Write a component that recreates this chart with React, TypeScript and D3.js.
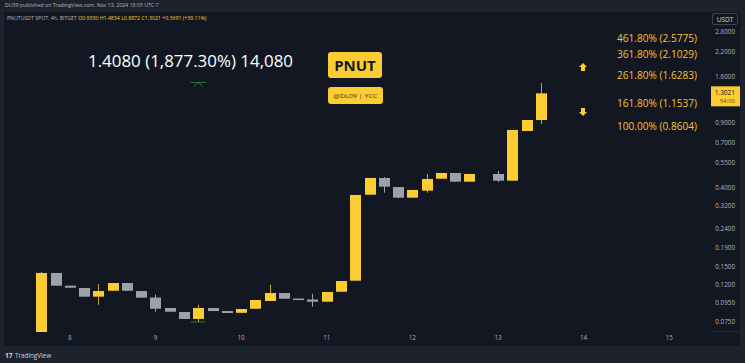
import React from "react";
import * as d3 from "d3";

// ---- data (PNUTUSDT 4h, Bitget) ----
const candleIndex = [0,1,2,3,4,5,6,7,8,9,10,11,12,13,14,15,16,17,18,19,20,21,22,23,24,25,26,27,28,29,30,32,33,34,35];
const opens  = [0.0662,0.1383,0.1180,0.1146,0.1029,0.1108,0.1220,0.1104,0.1018,0.0893,0.0850,0.0779,0.0893,0.0860,0.0841,0.0885,0.0975,0.1077,0.1005,0.0993,0.0966,0.1094,0.1256,0.3675,0.4527,0.4043,0.3540,0.3864,0.4484,0.4819,0.4323,0.4759,0.4377,0.8140,0.9330];
const closes = [0.1383,0.1180,0.1151,0.1029,0.1104,0.1220,0.1108,0.1016,0.0885,0.0853,0.0779,0.0893,0.0860,0.0839,0.0882,0.0987,0.1077,0.1003,0.0993,0.0966,0.1091,0.1251,0.3662,0.4527,0.4060,0.3540,0.3897,0.4471,0.4819,0.4323,0.4759,0.4377,0.8244,0.9338,1.3021];
const highs  = [0.1400,0.1383,0.1180,0.1146,0.1205,0.1220,0.1220,0.1104,0.1055,0.0893,0.0850,0.0931,0.0893,0.0860,0.0882,0.0987,0.1195,0.1077,0.1005,0.1068,0.1091,0.1251,0.3662,0.4527,0.4584,0.4043,0.3897,0.4759,0.4819,0.4819,0.4759,0.4940,0.8244,0.9338,1.4834];
const lows   = [0.0662,0.1180,0.1151,0.1029,0.0931,0.1108,0.1108,0.1016,0.0853,0.0853,0.0779,0.0750,0.0860,0.0839,0.0841,0.0885,0.0975,0.1003,0.0993,0.0908,0.0966,0.1094,0.1256,0.3675,0.3768,0.3540,0.3540,0.3768,0.4484,0.4323,0.4323,0.4300,0.4377,0.8140,0.8872];

const priceTicks = [2.8, 2.2, 1.6, 0.9, 0.7, 0.55, 0.4, 0.32, 0.24, 0.19, 0.15, 0.12, 0.095, 0.075];
const dayLabels = ["8", "9", "10", "11", "12", "13", "14", "15"];
const dayIndex = [2, 8, 14, 20, 26, 32, 38, 44];

const fibPercents = ["461.80%", "361.80%", "261.80%", "161.80%", "100.00%"];
const fibPrices = [2.5775, 2.1029, 1.6283, 1.1537, 0.8604];

const legendSymbol = "PNUTUSDT SPOT, 4h, BITGET";
const legendValues = ["O0.9330", "H1.4834", "L0.8872", "C1.3021", "+0.3691 (+39.11%)"];

const lastPrice = 1.3021;
const measureLow = 0.075;
const measureHigh = 1.4834;

const YELLOW = "#FBCD33";
const YELLOW_WICK = "#C9A02A";
const GRAY = "#9EA1AA";
const BG = "#131722";
const FRAME = "#1E222D";
const AXIS_TEXT = "#B2B5BE";
const FIB = "#F6C52E";
const GREEN = "#2B7A3E";

export default function App() {
  const x = d3.scaleLinear().domain([0, 35]).range([41.3, 540.8]);
  const y = d3.scaleLog().domain([0.075, 2.8]).range([322, 32]);
  const bw = 11;
  const font = "'Open Sans', 'Noto Sans', sans-serif";

  const candles = candleIndex.map((idx, i) => ({
    idx, o: opens[i], c: closes[i], h: highs[i], l: lows[i],
  }));

  const mx = x(11) - 7.5;
  return (
    <svg width={745} height={363} style={{ position: "absolute", left: 0, top: 0 }} fontFamily={font}>
      <rect x={0} y={0} width={745} height={363} fill={FRAME} />
      <text x={5} y={7} fontSize={5.2} fill={AXIS_TEXT}>
        DU39 published on TradingView.com, Nov 13, 2024 18:05 UTC-7
      </text>
      {/* main panel */}
      <rect x={3} y={11} width={738} height={336} fill={BG} stroke="#2A2E39" strokeWidth={0.8} />
      <line x1={710} x2={741} y1={331.5} y2={331.5} stroke="#2A2E39" strokeWidth={0.8} />

      {/* legend line */}
      <text x={7} y={19.5} fontSize={5.2} fill={AXIS_TEXT}>
        <tspan>{legendSymbol}</tspan>
        {legendValues.map((v, i) => (
          <tspan key={i} fill={YELLOW}>{"  " + v}</tspan>
        ))}
      </text>

      {/* candles */}
      {candles.map((d, i) => {
        const up = d.c >= d.o;
        const cx = Math.round(x(d.idx));
        const top = y(Math.max(d.o, d.c));
        const bot = y(Math.min(d.o, d.c));
        return (
          <g key={i}>
            <line x1={cx + 0.5} x2={cx + 0.5} y1={y(d.h)} y2={y(d.l)} stroke={up ? YELLOW_WICK : GRAY} strokeWidth={1} />
            <rect x={cx - bw / 2 + 0.5} y={top} width={bw} height={Math.max(1.5, bot - top)} fill={up ? YELLOW : GRAY} />
          </g>
        );
      })}

      {/* price range measure marks */}
      <line x1={mx} x2={mx + 15} y1={y(measureLow)} y2={y(measureLow)} stroke={GREEN} strokeWidth={1} />
      <line x1={mx} x2={mx + 15} y1={y(measureHigh) - 0.5} y2={y(measureHigh) - 0.5} stroke={GREEN} strokeWidth={1} />
      <polyline points={`${mx + 3},${y(measureHigh) + 3.5} ${mx + 7.5},${y(measureHigh) - 0.5} ${mx + 12},${y(measureHigh) + 3.5}`} fill="none" stroke={GREEN} strokeWidth={1} />

      {/* annotations */}
      <text x={88} y={67} fontSize={17} fill="#FFFFFF" textLength={205} lengthAdjust="spacingAndGlyphs">
        1.4080 (1,877.30%) 14,080
      </text>
      <rect x={328} y={52} width={54} height={26} rx={3} fill={YELLOW} />
      <text x={355} y={70.5} fontSize={15} fontWeight="bold" fill="#16181D" textAnchor="middle">PNUT</text>
      <rect x={328} y={87} width={55} height={17} rx={3} fill={YELLOW} />
      <text x={355.5} y={98} fontSize={6} fill="#3A3320" textAnchor="middle" textLength={44} lengthAdjust="spacingAndGlyphs">@DL09 | YCC</text>

      {/* fib labels */}
      {fibPrices.map((p, i) => (
        <text key={i} x={617} y={y(p) + 3.5} fontSize={10} fill={FIB} textLength={80} lengthAdjust="spacingAndGlyphs">
          {`${fibPercents[i]} (${p.toFixed(4)})`}
        </text>
      ))}

      {/* arrows */}
      <path d="M583,63 L587,67 L585,67 L585,71 L581,71 L581,67 L579,67 Z" fill={YELLOW} />
      <path d="M583,116 L587,112 L585,112 L585,108 L581,108 L581,112 L579,112 Z" fill={YELLOW} />

      {/* price axis */}
      <rect x={712.5} y={13.5} width={25} height={11} rx={1.5} fill={BG} stroke="#4A4E59" strokeWidth={0.8} />
      <text x={725} y={21.5} fontSize={6.5} fill="#D1D4DC" textAnchor="middle">USDT</text>
      {priceTicks.map((p, i) => (
        <text key={i} x={735} y={y(p) + 2.2} fontSize={6.3} fill={AXIS_TEXT} textAnchor="end">
          {p.toFixed(4)}
        </text>
      ))}
      <rect x={711} y={y(lastPrice) - 7} width={29} height={20} fill={YELLOW} />
      <text x={735} y={y(lastPrice) + 2} fontSize={6.5} fill="#16181D" textAnchor="end">{lastPrice.toFixed(4)}</text>
      <text x={735} y={y(lastPrice) + 9.5} fontSize={6} fill="#5A4A10" textAnchor="end">54:00</text>

      {/* time axis */}
      {dayLabels.map((t, i) => (
        <text key={i} x={x(dayIndex[i])} y={340} fontSize={6.3} fill={AXIS_TEXT} textAnchor="middle">{t}</text>
      ))}

      {/* footer */}
      <text x={5} y={357.5} fontSize={6.5} fontWeight="bold" fill="#D1D4DC">17</text>
      <text x={15} y={357.5} fontSize={6.3} fill="#D1D4DC">TradingView</text>
    </svg>
  );
}
